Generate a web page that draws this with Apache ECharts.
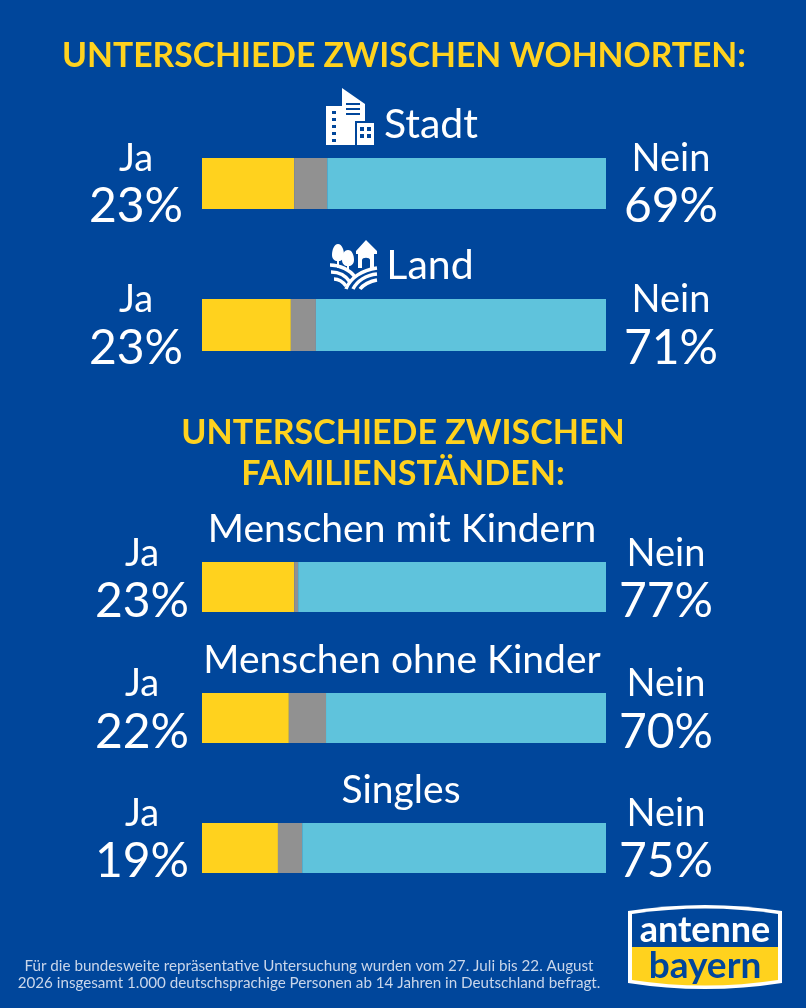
<!DOCTYPE html>
<html>
<head>
<meta charset="utf-8">
<style>html,body{margin:0;padding:0;background:#00469b}</style>
<script src="https://cdn.jsdelivr.net/npm/echarts@6/dist/echarts.min.js"></script>
</head>
<body>
<div id="chart" style="width:806px;height:1008px"></div>
<script>
// values
var groups = ['Stadt', 'Land', 'Menschen mit Kindern', 'Menschen ohne Kinder', 'Singles'];
var jaValues = [22.8, 22, 22.8, 21.5, 18.8];
var restValues = [8.2, 6.2, 1, 9.2, 6];
var neinValues = [69, 71.8, 76.2, 69.3, 75.2];
var jaLabels = ['23%', '23%', '23%', '22%', '19%'];
var neinLabels = ['69%', '71%', '77%', '70%', '75%'];

// layout of the five panels, the bars are not evenly spaced
var barTop = [158, 299, 562, 693, 823];
var barHeight = [51, 52, 50, 50, 50];
var leftX = [136, 136, 142, 142, 142];
var rightX = [671, 671, 666, 666, 666];
var wordY = [159, 300, 554, 684, 814];
var pctY = [207, 349, 602, 733, 862];

var FONT = 'Lato';
var BG = '#00469b';
var YELLOW = '#ffd21e';
var chart = echarts.init(document.getElementById('chart'));

function txt(s, x, y, size, color, weight, align) {
	return {
		type: 'text',
		style: {
			text: s, x: x, y: y, fill: color,
			font: (weight || 'normal') + ' ' + size + 'px ' + FONT,
			textAlign: align || 'center', textVerticalAlign: 'middle'
		}
	};
}
function box(x, y, w, h, fill) {
	return { type: 'rect', shape: { x: x, y: y, width: w, height: h }, style: { fill: fill } };
}
// the graphic component has no plain path type, so each svg path is registered as a shape
var pathCount = 0;
function path(d, fill, stroke, lw) {
	var name = 'iconPath' + (pathCount++);
	echarts.graphic.registerShape(name, echarts.graphic.extendPath(d, {}));
	return {
		type: name,
		style: { fill: fill || 'none', stroke: stroke || 'none', lineWidth: lw || 0 }
	};
}

var grids = [], xAxes = [], yAxes = [], series = [], gfx = [];
groups.forEach(function (name, i) {
	grids.push({ left: 202, width: 404, top: barTop[i], height: barHeight[i] });
	xAxes.push({ gridIndex: i, type: 'value', min: 0, max: 100, show: false });
	yAxes.push({ gridIndex: i, type: 'category', data: [name], show: false });
	[[jaValues, YELLOW, 'Ja'], [restValues, '#919191', 'Rest'], [neinValues, '#5fc3dc', 'Nein']].forEach(function (s) {
		series.push({
			type: 'bar', name: s[2], stack: 'g' + i, xAxisIndex: i, yAxisIndex: i,
			barWidth: '100%', data: [s[0][i]], itemStyle: { color: s[1] }, silent: true
		});
	});
	gfx.push(txt('Ja', leftX[i], wordY[i], 38, '#fff'));
	gfx.push(txt(jaLabels[i], leftX[i], pctY[i], 48, '#fff'));
	gfx.push(txt('Nein', rightX[i], wordY[i], 38, '#fff'));
	gfx.push(txt(neinLabels[i], rightX[i], pctY[i], 48, '#fff'));
});

// headings
gfx.push(txt('UNTERSCHIEDE ZWISCHEN WOHNORTEN:', 404, 56, 33.7, YELLOW, 'bold'));
gfx.push(txt('UNTERSCHIEDE ZWISCHEN', 403, 433, 34, YELLOW, 'bold'));
gfx.push(txt('FAMILIENSTÄNDEN:', 403, 474, 34, YELLOW, 'bold'));
gfx.push(txt(groups[0], 431, 125, 41, '#fff'));
gfx.push(txt(groups[1], 430, 266, 41, '#fff'));
gfx.push(txt(groups[2], 402, 529, 39, '#fff'));
gfx.push(txt(groups[3], 402, 660, 39, '#fff'));
gfx.push(txt(groups[4], 401, 790, 39, '#fff'));

// Stadt icon
gfx.push(box(326, 106, 16, 39, '#fff'));
gfx.push(path('M342 88L365 104V145H342Z', '#fff'));
gfx.push(box(355, 121, 19, 24, BG));
gfx.push(box(357, 123, 17, 22, '#fff'));
[[332, 111], [332, 118], [332, 125], [332, 132], [332, 139]].forEach(function (p) {
	gfx.push(box(p[0], p[1], 4, 3, BG));
});
[[346, 103, 14], [346, 108, 14], [346, 113, 14]].forEach(function (p) {
	gfx.push(box(p[0], p[1], p[2], 2, BG));
});
[[360, 127], [367, 127], [360, 134], [367, 134]].forEach(function (p) {
	gfx.push(box(p[0], p[1], 4, 4, BG));
});

// Land icon
gfx.push(path('M338 244C342 244 344 250 344 255C344 259 341 261 339 261V268H337V261C335 261 332 259 332 255C332 250 334 244 338 244Z', '#fff'));
gfx.push(path('M348 250C352 250 354 255 354 260C354 264 351 266 349 266V272H347V266C345 266 342 264 342 260C342 255 344 250 348 250Z', '#fff'));
gfx.push(path('M356 251L366 240L377 251V254H374V268H358V254H356Z', '#fff'));
gfx.push(path('M362 268V260C362 257 370 257 370 260V268Z', BG));
gfx.push(path('M330 265C340 265 350 270 355 277', 'none', '#fff', 3.5));
gfx.push(path('M331 272C340 272 346 276 350 282', 'none', '#fff', 3.5));
gfx.push(path('M334 279C339 279 343 282 346 286', 'none', '#fff', 3.5));
gfx.push(path('M346 289C350 278 362 270 377 268', 'none', '#fff', 3.5));
gfx.push(path('M353 289C357 281 366 275 377 274', 'none', '#fff', 3.5));
gfx.push(path('M360 289C363 285 370 281 377 280', 'none', '#fff', 3.5));

// logo
gfx.push(path('M628 911Q705 899 782 911V983Q705 995 628 983Z', '#fff'));
gfx.push(path('M632 914Q705 903 778 914V947H632Z', BG));
gfx.push(path('M632 947H778V980Q705 991 632 980Z', YELLOW));
gfx.push(txt('antenne', 705, 930, 36, '#fff', 'bold'));
gfx.push(txt('bayern', 705, 966, 37, BG, 'bold'));

// footnote
gfx.push(txt('Für die bundesweite repräsentative Untersuchung wurden vom 27. Juli bis 22. August', 309, 966, 15.2, '#c9d6ea'));
gfx.push(txt('2026 insgesamt 1.000 deutschsprachige Personen ab 14 Jahren in Deutschland befragt.', 309, 983, 15.2, '#c9d6ea'));

chart.setOption({
	backgroundColor: BG,
	animation: false,
	grid: grids,
	xAxis: xAxes,
	yAxis: yAxes,
	series: series,
	graphic: gfx
});
</script>
</body>
</html>
